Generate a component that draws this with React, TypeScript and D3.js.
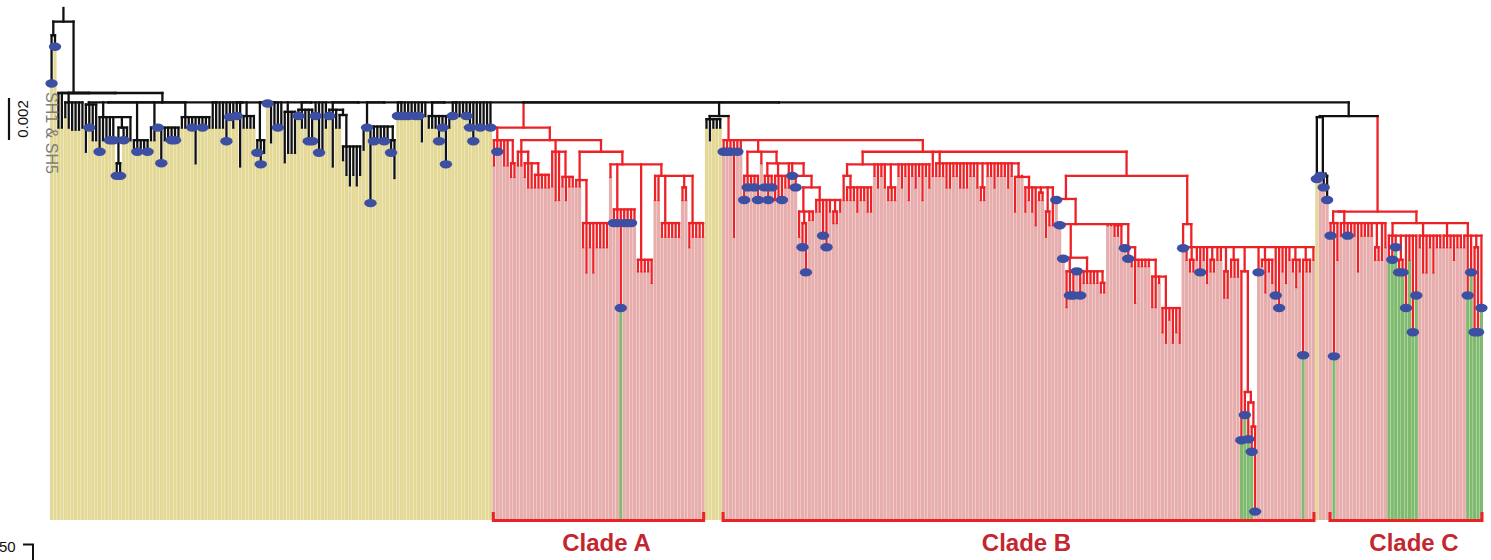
import React from "react";
import * as d3 from "d3";

// Branch heights are cumulative distances from the root, in units of 1e-4 substitutions/site.
// Leaf flags: d = sampled (dot), g = green bar, y = yellow bar, p = pink bar. Node flag r = red clade.
const rootHeight = 6.5;
const stemHeight = 40.5;
const combHeight = 45;
const sisterHeight = 51.5;
const depthMax = 244;
const scaleBarLength = 20;

const basalPair = "(36d,18.5d)13";
const basalLeaves = ["57", "57"];
const sh1Group = "(52,57,58,58,58,57)45";

const outgroupLevels = [
  "((68.5,57d,63,63)46,(68.5d,63,63,63d,63d,((80d,80d)74,63d,63)57,63)52,(68.5,68.5d,68.5,68.5,68.5d)63,(63,63,57d,74d,63,63,63d,63d,63)57,(57,57,57,57d,74,57,57d,57,57)52)45",
  "57,57,57,57,63.5d,52d,57",
  "51.5d,75.5,(57,57,57,57)51.5",
  "(69d,74.5d,69)63,45.5d",
  "64,57,57d,57,(73.5,69,69,69)49.5",
  "(51.5d,57,57,63.5d,63.5d)48.5,51.5d,69d,68.5,57",
  "(51.5d,75.5,57,(57,(72.5,79.5,84.5,79.5,84.5,79.5)66)51)48.5",
  "(67.5,57d,93d,63.5d,63.5,63.5,63.5d,63.5,(69d,81)63)56.5",
  "51.5d,51.5d,51.5d,51.5d,51.5,51.5d,51.5d,63.5,51.5",
  "(57,57,57,63.5d,57d,74.5d,57)51.5",
  "51.5d,51.5,51.5,51.5,51.5d,57d,63.5d,57,57d,57,57,57d",
];

const cladeAParts = [
  "(75,68.5d,68.5,75,75,(80.5,80.5)74)63",
  "(75,75,(80.5,85.5,85.5,(85.5,85.5,85.5,85.5,85.5)79.5)74)68.5",
  "(85,91.5,91.5,(85,91.5,85,85)80.5)68.5",
  "(85,85,(114,126,114,126,114,114,114,114)102.5)82",
  "(80.5,(102.5d,102.5d,143dg,102.5d,102.5d,102.5d,102.5)96,(125.5,125.5,125.5,125.5,131)120,(91.5,91.5,(109,109,109,109,109,109)102.5,(91.5,91.5)85.5,(114,109,109,109,109)102.5)80)74.5",
];
const cladeA = `(${cladeAParts[0]},(${cladeAParts[1]},${cladeAParts[2]},(${cladeAParts[3]},${cladeAParts[4]})68.5)63)57r`;

const cladeBSister = "(57,63,57,57,57)53";
const cladeBParts = [
  "68.5d,68.5d,68.5d,109,68.5d,68.5",
  "((91.5d,85.5d,85.5,85.5d,91.5d)80,74,((85.5d,91.5d,85.5d)80,(91.5,91.5,91.5d,85.5)80,85.5,80d,(85.5d,((109,(114d,126d)102.5,101,101)97,(97,97,108.5d,114d,97,(102.5,102.5)97,97)91.5)85.5)80)74)68.5",
  "((91.5,(91.5,91.5,91.5,97,91.5,91.5,97,97)85.5)80,80,85.5,80,85.5,(91.5,91.5,91.5)85.5,80,85.5,80,91.5,80,85.5,80,91.5,80,85.5)74.5",
  "80",
  "(80,80,80,85.5,85.5,80,80,85.5,85.5,85.5,80,80,85.5,(91.5,91.5)85.5,80,80,85.5,80,80,80,85.5,80,(97,80,80,(97,91.5,97,103.5,(91.5,91.5)88,(109,103.5)97,103.5)85.5)80.5)74",
  "(91.5d,(103.5d,(119.5d,(142.5,137d,137d,125.5d,137d)125.5,(131,131,131,131,131,(135.5,135.5)131)125.5)119,103.5,103.5,(108.5,108.5,114)103.5,(114.5d,119.5d,(123,140.5,123,123,123,123,(142.5,142.5,131,(154.5,159.5,148.5,159.5,154.5,159.5)143)128)120)114)103)91",
  "(114.5d,(120,(125.5,125.5)120,120,126d,120,131,(125.5,125.5)120,120,120,(138,138)125.5,(128,128,128)120,(206dg,(194dg,(205.5dg,(211.5dg,240d)199.5)188)183)125.5,126d,(123,135.5,125.5,131)120,137d,143d,125.5,131,120,(125.5,133,125.5)120,(165.5dg,125.5,125.5)120,120)114)103",
];
const cladeB = `(${cladeBParts[0]},${cladeBParts[1]},(${cladeBParts[2]},${cladeBParts[3]},${cladeBParts[4]},(${cladeBParts[5]},${cladeBParts[6]})80)68.5)63r`;

const cladeCSister = ["81.5dy", "(80dp,(85.5dp,91.5dp)80)79"];
const cladeCParts = [
  "(108.5d,166dg,120)102.5",
  "(108.5,108.5,108.5d,108.5,108.5,125.5,108.5,108.5,108.5,108.5,(120,120)114,120,114)102.5",
  "((120g,120dg,114dg,(126dg,126dg)120,143dg,120g,154.5dg,137dg)108.5,(114,126,126,114,126,114,114)108.5,(114,114,114,120,114,114)108.5,(114,137dg,126dg,(154.5dg,154.5dg)114,143dg)108.5)102.5",
];
const cladeC = `((${cladeCParts[0]},${cladeCParts[1]})97,${cladeCParts[2]})97r`;

const cladeNames = ["Clade A", "Clade B", "Clade C"];

type TNode = { h: number; flags: string; children: TNode[] };

function parseTree(src: string): TNode {
  const s = src.replace(/\s+/g, "");
  let i = 0;
  const read = (): TNode => {
    const children: TNode[] = [];
    if (s[i] === "(") {
      i++;
      children.push(read());
      while (s[i] === ",") {
        i++;
        children.push(read());
      }
      i++; // ")"
    }
    const m = /^([0-9.]+)([a-z]*)/.exec(s.slice(i))!;
    i += m[0].length;
    return { h: +m[1], flags: m[2], children };
  };
  return read();
}

// assemble the backbone: ladder of outgroup lineages hanging from the comb line
const cGroup = `((${cladeCSister.join(",")})52,${cladeC})${sisterHeight}`;
const bGroup = `(${cladeBSister},${cladeB})${sisterHeight}`;
let comb = `(${cladeA},${bGroup},${cGroup})${combHeight}`;
for (let k = outgroupLevels.length - 1; k >= 0; k--) comb = `(${outgroupLevels[k]},${comb})${combHeight}`;
const treeString = `(${basalPair},(${basalLeaves[0]},(${basalLeaves[1]},(${sh1Group},${comb})${stemHeight})${stemHeight})${stemHeight})${rootHeight}`;

const YELLOW = "#e3d895";
const PINK = "#e6adac";
const GREEN = "#7fba6e";
const RED = "#ec2227";
const BLACK = "#111111";
const BLUE = "#3d4fa2";
const LABEL = "#c4262e";
const FONT = "'Liberation Sans', Arial, sans-serif";

const App: React.FC = () => {
  const width = 1491;
  const height = 560;

  const root = d3.hierarchy<TNode>(parseTree(treeString), (d) => (d.children.length ? d.children : null));
  const red = new Map<d3.HierarchyNode<TNode>, boolean>();
  root.each((d) => red.set(d, d.data.flags.includes("r") || (d.parent ? red.get(d.parent)! : false)));

  const leaves = root.leaves();
  const x = d3.scaleBand<number>().domain(d3.range(leaves.length)).range([50, 1483]).paddingInner(0.08);
  const y = d3.scaleLinear().domain([0, depthMax]).range([8, 520]);
  const bw = x.bandwidth();

  // polytomies are drawn as right-nested binary splits: fold child positions from the right
  const px = new Map<d3.HierarchyNode<TNode>, number>();
  leaves.forEach((l, i) => px.set(l, x(i)! + bw / 2));
  root.eachAfter((d) => {
    if (!d.children) return;
    const xs = d.children.map((c) => px.get(c)!);
    px.set(d, xs.slice(0, -1).reduceRight((acc, v) => (v + acc) / 2, xs[xs.length - 1]));
  });

  const barColor = (d: d3.HierarchyNode<TNode>) => {
    const f = d.data.flags;
    if (f.includes("g")) return GREEN;
    if (f.includes("y")) return YELLOW;
    if (f.includes("p")) return PINK;
    return red.get(d) ? PINK : YELLOW;
  };

  const nodes = root.descendants();
  const clades = nodes.filter((d) => d.data.flags.includes("r"));

  return (
    <svg width={width} height={height} style={{ position: "absolute", left: 0, top: 0, background: "#fff" }}>
      <g>
        {leaves.map((l, i) => (
          <rect key={i} x={x(i)} y={y(l.data.h)} width={bw} height={y(depthMax) - y(l.data.h)} fill={barColor(l)} />
        ))}
      </g>
      <g strokeWidth={2.3} strokeLinecap="square">
        {nodes.map((d, i) => (
          <line
            key={"v" + i}
            x1={px.get(d)}
            x2={px.get(d)}
            y1={d.parent ? y(d.parent.data.h) : y(0)}
            y2={y(d.data.h)}
            stroke={red.get(d) ? RED : BLACK}
          />
        ))}
        {nodes
          .filter((d) => d.children)
          .map((d, i) => (
            <line
              key={"h" + i}
              x1={px.get(d.children![0])}
              x2={px.get(d.children![d.children!.length - 1])}
              y1={y(d.data.h)}
              y2={y(d.data.h)}
              stroke={red.get(d) ? RED : BLACK}
            />
          ))}
      </g>
      <g>
        {leaves
          .filter((l) => l.data.flags.includes("d"))
          .map((l, i) => (
            <ellipse key={i} cx={px.get(l)} cy={y(l.data.h)} rx={6.2} ry={4.2} fill={BLUE} />
          ))}
      </g>
      {clades.map((c, i) => {
        const ls = c.leaves();
        const i0 = leaves.indexOf(ls[0]);
        const i1 = leaves.indexOf(ls[ls.length - 1]);
        const x0 = x(i0)! + 1;
        const x1 = x(i1)! + bw - 1;
        return (
          <g key={i}>
            <path d={`M${x0},512V520.5H${x1}V512`} fill="none" stroke={RED} strokeWidth={3} />
            <text x={(x0 + x1) / 2 + 8} y={551} textAnchor="middle" fontFamily={FONT} fontWeight="bold" fontSize={24} fill={LABEL}>
              {cladeNames[i]}
            </text>
          </g>
        );
      })}
      <line x1={9} x2={9} y1={98} y2={98 + y(scaleBarLength) - y(0)} stroke={BLACK} strokeWidth={2.2} />
      <text transform="translate(27.5,119) rotate(-90)" textAnchor="middle" fontFamily={FONT} fontSize={15} fill={BLACK}>
        {(scaleBarLength * 1e-4).toFixed(3)}
      </text>
      <text transform="translate(45.5,133) rotate(90)" textAnchor="middle" fontFamily={FONT} fontSize={16} fill="#7d7d7d">
        SH1 &amp; SH5
      </text>
      <text x={-1} y={552} fontFamily={FONT} fontSize={15} fill={BLACK}>
        50
      </text>
      <path d="M23,544.5H33V560" fill="none" stroke={BLACK} strokeWidth={2} />
    </svg>
  );
};

export default App;
